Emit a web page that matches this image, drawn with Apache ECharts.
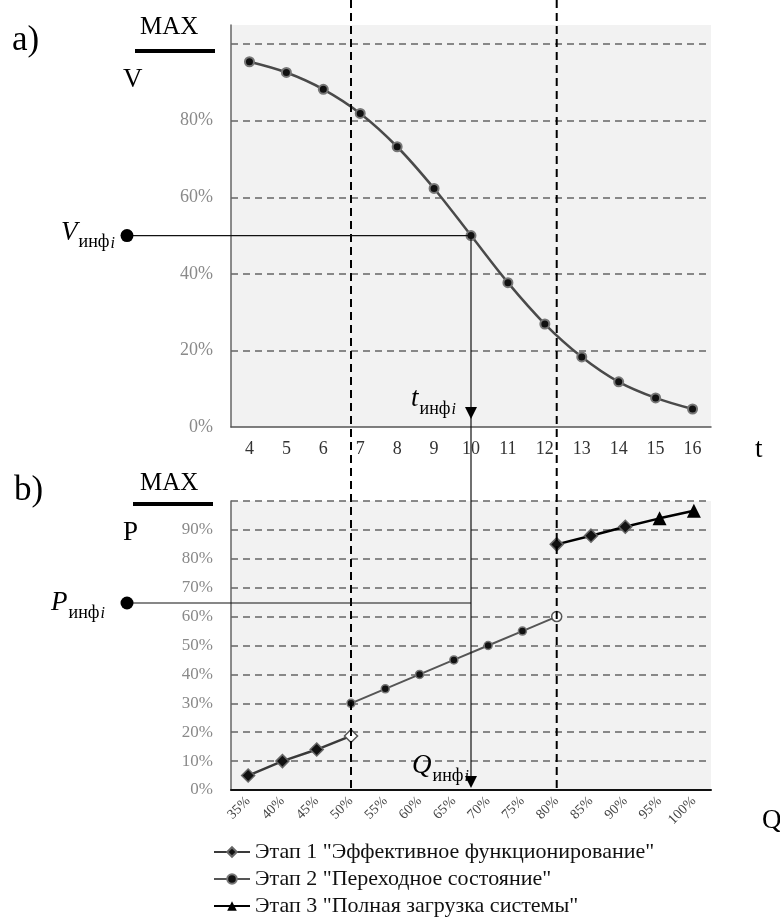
<!DOCTYPE html>
<html><head><meta charset="utf-8">
<script src="https://cdn.jsdelivr.net/npm/echarts@6/dist/echarts.min.js"></script>
<style>html,body{margin:0;padding:0;background:#fff}#c{width:780px;height:924px}</style>
</head><body><div id="c"></div>
<script>
// ---- data ----
const tCategories = ['4','5','6','7','8','9','10','11','12','13','14','15','16'];
const vValues = [95.4, 92.6, 88.2, 81.9, 73.2, 62.3, 50.0, 37.7, 26.9, 18.3, 11.8, 7.6, 4.7];
const qCategories = ['35%','40%','45%','50%','55%','60%','65%','70%','75%','80%','85%','90%','95%','100%'];
const stage1Low  = [5, 10, 14, 18.7, null, null, null, null, null, null, null, null, null, null];
const stage1High = [null, null, null, null, null, null, null, null, null, 85, 88, 91.1, null, null];
const stage2     = [null, null, null, 30, 35, 40, 45, 50, 55, 60, null, null, null, null];
const stage3     = [null, null, null, null, null, null, null, null, null, null, null, 91.1, 94, 96.6];
const legendNames = ['Этап 1 "Эффективное функционирование"', 'Этап 2 "Переходное состояние"', 'Этап 3 "Полная загрузка системы"'];
const tInf = '10';          // t_инф_i category
const vInf = 50;            // V_инф_i value (%)
const pInf = 64.7;          // P_инф_i value (%)
const stageBounds = ['50%', '80%'];
const hollowStage1 = '50%';
const hollowStage2 = '80%';
const stage3Start = '90%';

// ---- chart ----
const serif = '"Liberation Serif", "Times New Roman", serif';
const chart = echarts.init(document.getElementById('c'), null, {renderer: 'canvas'});

const hollow = {color: '#fff', borderColor: '#555', borderWidth: 1.5};
const s1LowData = stage1Low.map((v, i) => qCategories[i] === hollowStage1 ? {value: v, itemStyle: hollow} : v);
const s2Data = stage2.map((v, i) => qCategories[i] === hollowStage2 ? {value: v, symbolSize: 10, itemStyle: hollow} : v);
const s3Data = stage3.map((v, i) => qCategories[i] === stage3Start ? {value: v, symbol: 'none'} : v);

const gridDash = {color: '#666', width: 1.5, type: [7, 5]};

chart.setOption({
  animation: false,
  backgroundColor: '#fff',
  grid: [
    {left: 231, right: 69, top: 25, height: 402, show: true, backgroundColor: '#f2f2f2', borderWidth: 0, outerBoundsMode: 'none'},
    {left: 231, right: 69, top: 501, height: 289, show: true, backgroundColor: '#f2f2f2', borderWidth: 0, outerBoundsMode: 'none'}
  ],
  xAxis: [
    {gridIndex: 0, type: 'category', data: tCategories, boundaryGap: true,
     axisLine: {lineStyle: {color: '#555', width: 1.5}}, axisTick: {show: false},
     axisLabel: {fontFamily: serif, fontSize: 18, color: '#333', margin: 13}},
    {gridIndex: 1, type: 'category', data: qCategories, boundaryGap: true,
     axisLine: {lineStyle: {color: '#111', width: 2}}, axisTick: {show: false},
     axisLabel: {fontFamily: serif, fontSize: 14, color: '#444', rotate: 45, margin: 9, interval: 0}}
  ],
  yAxis: [
    {gridIndex: 0, type: 'value', min: 0, max: 105, interval: 20,
     axisLine: {show: true, lineStyle: {color: '#666', width: 1.5}}, axisTick: {show: false},
     splitLine: {show: true, showMinLine: false, showMaxLine: false, lineStyle: gridDash},
     axisLabel: {fontFamily: serif, fontSize: 18, color: '#8a8a8a', margin: 18,
                 formatter: v => v >= 100 ? '' : v + '%'}},
    {gridIndex: 1, type: 'value', min: 0, max: 100, interval: 10,
     axisLine: {show: true, lineStyle: {color: '#666', width: 1.5}}, axisTick: {show: false},
     splitLine: {show: true, showMinLine: false, lineStyle: gridDash},
     axisLabel: {fontFamily: serif, fontSize: 17, color: '#8a8a8a', margin: 18,
                 formatter: v => v >= 100 ? '' : v + '%'}}
  ],
  legend: {
    orient: 'vertical', left: 213, top: 840, padding: 0, itemWidth: 36, itemHeight: 12, itemGap: 3,
    data: legendNames, selectedMode: false,
    textStyle: {fontFamily: serif, fontSize: 22, color: '#111', lineHeight: 24}
  },
  series: [
    {name: 'V', type: 'line', xAxisIndex: 0, yAxisIndex: 0, data: vValues, smooth: 0.35,
     symbol: 'circle', symbolSize: 9, z: 4,
     lineStyle: {color: '#4a4a4a', width: 2.5},
     itemStyle: {color: '#111', borderColor: '#777', borderWidth: 2}},
    {name: legendNames[0], type: 'line', xAxisIndex: 1, yAxisIndex: 1, data: s1LowData,
     symbol: 'diamond', symbolSize: 13, z: 4, connectNulls: false,
     lineStyle: {color: '#3a3a3a', width: 2.5},
     itemStyle: {color: '#111', borderColor: '#666', borderWidth: 1.5}},
    {name: legendNames[0], type: 'line', xAxisIndex: 1, yAxisIndex: 1, data: stage1High,
     symbol: 'diamond', symbolSize: 13, z: 5, connectNulls: false,
     lineStyle: {color: '#000', width: 2.5},
     itemStyle: {color: '#111', borderColor: '#666', borderWidth: 1.5}},
    {name: legendNames[1], type: 'line', xAxisIndex: 1, yAxisIndex: 1, data: s2Data,
     symbol: 'circle', symbolSize: 8, z: 4, connectNulls: false,
     lineStyle: {color: '#555', width: 2},
     itemStyle: {color: '#111', borderColor: '#777', borderWidth: 1.5}},
    {name: legendNames[2], type: 'line', xAxisIndex: 1, yAxisIndex: 1, data: s3Data,
     symbol: 'triangle', symbolSize: 14, z: 4, connectNulls: false,
     lineStyle: {color: '#000', width: 2.5},
     itemStyle: {color: '#000'}}
  ]
});

// ---- annotations (positions derived from the axes) ----
function px(g, x, y) { return chart.convertToPixel({xAxisIndex: g, yAxisIndex: g}, [x, y]); }
const topBottom = px(0, 0, 0)[1];
const botBottom = px(1, 0, 0)[1];
const ptV = px(0, tCategories.indexOf(tInf), vInf);
const xT = ptV[0], yV = ptV[1];
const yP = px(1, 0, pInf)[1];
const dotX = 127;
const G = [];
const line = (x1, y1, x2, y2, st) => G.push({type: 'line', z: 50, shape: {x1, y1, x2, y2}, style: Object.assign({stroke: '#111', lineWidth: 1.2}, st || {})});
const text = (x, y, t, st) => G.push({type: 'text', z: 60, x, y, style: Object.assign({text: t, fill: '#000', fontFamily: serif, fontSize: 25, verticalAlign: 'middle'}, st || {})});

stageBounds.forEach(c => {
  const x = px(1, qCategories.indexOf(c), 0)[0];
  line(x, 0, x, botBottom, {stroke: '#000', lineWidth: 2, lineDash: [8, 5]});
});
line(dotX, yV, xT, yV);
line(xT, yV, xT, botBottom - 4);
line(dotX, yP, xT, yP);
G.push({type: 'circle', z: 60, shape: {cx: dotX, cy: yV, r: 6.5}, style: {fill: '#000'}});
G.push({type: 'circle', z: 60, shape: {cx: dotX, cy: yP, r: 6.5}, style: {fill: '#000'}});
[topBottom - 8, botBottom - 2].forEach(tip => {
  G.push({type: 'polygon', z: 60, shape: {points: [[xT - 6, tip - 12], [xT + 6, tip - 12], [xT, tip]]}, style: {fill: '#000'}});
});

// panel labels
text(12, 41, 'a)', {fontSize: 35});
text(14, 491, 'b)', {fontSize: 35});
text(140, 27, 'MAX', {fontSize: 25});
text(140, 483, 'MAX', {fontSize: 25});
G.push({type: 'rect', z: 60, shape: {x: 135, y: 49, width: 80, height: 4}, style: {fill: '#000'}});
G.push({type: 'rect', z: 60, shape: {x: 133, y: 502, width: 80, height: 4}, style: {fill: '#000'}});
text(123, 80, 'V', {fontSize: 27});
text(123, 533, 'P', {fontSize: 27});
text(755, 450, 't', {fontSize: 27});
text(762, 821, 'Q', {fontSize: 27});

// math labels X_инф_i
const mctx = document.createElement('canvas').getContext('2d');
function tw(s, font) { mctx.font = font; return mctx.measureText(s).width; }
function mathLabel(x, y, letter) {
  const wL = tw(letter, 'italic 27px "Liberation Serif"');
  const wS = tw('инф', '18px "Liberation Serif"');
  text(x, y, letter, {fontSize: 27, fontStyle: 'italic'});
  const xs = x + wL + 1;
  text(xs, y + 10, 'инф', {fontSize: 18});
  text(xs + wS + 1, y + 11, 'i', {fontSize: 16, fontStyle: 'italic'});
}
mathLabel(61, yV - 3, 'V');
mathLabel(51, yP, 'P');
mathLabel(411, topBottom - 28, 't');
mathLabel(412, botBottom - 24, 'Q');

chart.setOption({graphic: {elements: G}});
</script>
</body></html>
